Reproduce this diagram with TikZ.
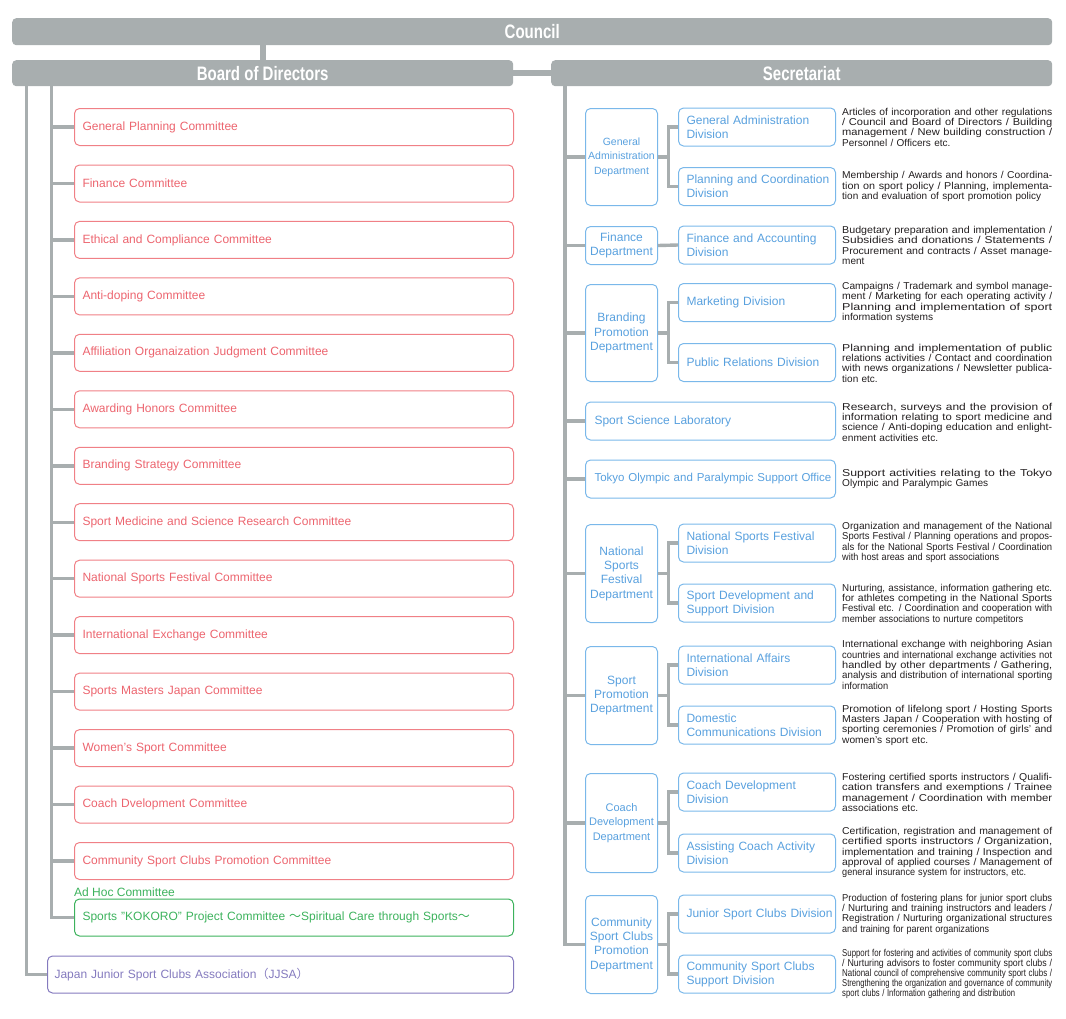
\documentclass[tikz,border=0pt]{standalone}
\usepackage{fontspec}
\usepackage{graphicx}
\setmainfont{Liberation Sans}
\newfontfamily\cjk{Noto Sans CJK JP}
\newfontfamily\hdr[FakeStretch=0.77]{Liberation Sans Bold}
\definecolor{barc}{RGB}{168,174,175}
\definecolor{redc}{RGB}{236,100,110}
\definecolor{redbd}{RGB}{240,128,134}
\definecolor{grnc}{RGB}{60,178,92}
\definecolor{purc}{RGB}{132,122,190}
\definecolor{bluec}{RGB}{88,160,222}
\definecolor{bluebd}{RGB}{122,184,234}
\definecolor{descc}{RGB}{35,31,32}
\newcommand{\fline}[1]{\resizebox{210pt}{\height}{#1}}
\newcommand{\lline}[2]{\resizebox{#1pt}{\height}{#2}}
\tikzset{
  bar/.style={fill=barc, rounded corners=4, minimum height=27, inner sep=0, anchor=north west, text=white, font=\hdr\fontsize{19.5}{20}\selectfont},
  conn/.style={draw=barc, line width=3.4},
  com/.style={draw=redbd, text=redc, line width=1, rounded corners=5, minimum height=37, text width=423, inner xsep=8, inner ysep=0, align=left, anchor=west, font=\fontsize{12}{14}\selectfont},
  adhoc/.style={com, draw=grnc, text=grnc},
  jj/.style={com, draw=purc, text=purc, text width=452, inner xsep=7},
  dept/.style={draw=bluebd, text=bluec, line width=1, rounded corners=5, text width=68, inner xsep=2, inner ysep=0, align=center, anchor=north west, font=\fontsize{12}{14.3}\selectfont},
  divb/.style={draw=bluebd, text=bluec, line width=1, rounded corners=5, text width=141, inner xsep=8, inner ysep=0, minimum height=38, align=left, anchor=west, font=\fontsize{12}{14}\selectfont},
  wide/.style={divb, text width=232, inner xsep=9, font=\fontsize{11.5}{14}\selectfont},
  desc/.style={anchor=west, inner sep=0, text width=210, align=left, text=descc, font=\fontsize{10}{10.3}\selectfont},
}
\begin{document}
\begin{tikzpicture}[x=1pt,y=-1pt]
\useasboundingbox (0,0) rectangle (1066,1018);
% headers
\node[bar, minimum width=1040] (council) at (12,18) {Council};
\node[bar, minimum width=501, minimum height=26] (board) at (12,60) {Board of Directors};
\node[bar, minimum width=501, minimum height=26] (secr) at (551,60) {Secretariat};
\draw[conn, line width=6] (board.north) -- (board.north |- council.south);
\draw[conn, line width=5.5] (board.east) -- (secr.west);

% committees
\node[com] (c1) at (74,127) {General Planning Committee};
\node[com] (c2) at (74,183.5) {Finance Committee};
\node[com] (c3) at (74,239.9) {Ethical and Compliance Committee};
\node[com] (c4) at (74,296.4) {Anti-doping Committee};
\node[com] (c5) at (74,352.8) {Affiliation Organaization Judgment Committee};
\node[com] (c6) at (74,409.3) {Awarding Honors Committee};
\node[com] (c7) at (74,465.8) {Branding Strategy Committee};
\node[com] (c8) at (74,522.2) {Sport Medicine and Science Research Committee};
\node[com] (c9) at (74,578.7) {National Sports Festival Committee};
\node[com] (c10) at (74,635.1) {International Exchange Committee};
\node[com] (c11) at (74,691.6) {Sports Masters Japan Committee};
\node[com] (c12) at (74,748.1) {Women's Sport Committee};
\node[com] (c13) at (74,804.5) {Coach Dvelopment Committee};
\node[com] (c14) at (74,861) {Community Sport Clubs Promotion Committee};
\node[anchor=west, inner sep=0, text=grnc, font=\fontsize{12}{14}\selectfont] (adlab) at (74,892.5) {Ad Hoc Committee};
\node[adhoc] (adhoc) at (74,917.5) {Sports "KOKORO" Project Committee {\cjk ～}Spiritual Care through Sports{\cjk ～}};
\node[jj] (jjsa) at (47,974.5) {Japan Junior Sport Clubs Association{\cjk （}JJSA{\cjk ）}};

\coordinate (la) at (26.5,86);
\coordinate (lb) at (51.5,86);
\draw[conn] (la) |- (jjsa.west);
\foreach \i in {1,...,14} \draw[conn] (lb) |- (c\i.west);
\draw[conn] (lb) |- (adhoc.west);

% departments
\node[dept, minimum height=97, font=\fontsize{10.5}{14.5}\selectfont] (dGA) at (585,108) {General\\Administration\\Department};
\node[dept, minimum height=38] (dFin) at (585,226) {Finance\\Department};
\node[dept, minimum height=97] (dBr) at (585,284) {Branding\\Promotion\\Department};
\node[wide, font=\fontsize{12}{14}\selectfont] (lab) at (585,421) {Sport Science Laboratory};
\node[wide] (tok) at (585,479) {\mbox{Tokyo Olympic and Paralympic Support Office}};
\node[dept, minimum height=98] (dNSF) at (585,524) {National\\Sports\\Festival\\Department};
\node[dept, minimum height=98] (dSP) at (585,646) {Sport\\Promotion\\Department};
\node[dept, minimum height=99, font=\fontsize{11}{14.5}\selectfont] (dCo) at (585,773) {Coach\\Development\\Department};
\node[dept, minimum height=98] (dCS) at (585,895) {Community\\Sport Clubs\\Promotion\\Department};

% divisions
\node[divb] (vGA) at (678,127) {General Administration\\Division};
\node[divb] (vPC) at (678,186.5) {\mbox{Planning and Coordination}\\Division};
\node[divb] (vFA) at (678,245) {Finance and Accounting\\Division};
\node[divb] (vMk) at (678,302.5) {Marketing Division};
\node[divb] (vPR) at (678,362.5) {Public Relations Division};
\node[divb] (vNF) at (678,543) {National Sports Festival\\Division};
\node[divb] (vSD) at (678,603) {Sport Development and\\Support Division};
\node[divb] (vIA) at (678,665) {International Affairs\\Division};
\node[divb] (vDC) at (678,725) {Domestic\\\mbox{Communications Division}};
\node[divb] (vCD) at (678,792) {Coach Development\\Division};
\node[divb] (vAC) at (678,853) {Assisting Coach Activity\\Division};
\node[divb] (vJS) at (678,914) {\mbox{Junior Sport Clubs Division}};
\node[divb] (vCS) at (678,974) {Community Sport Clubs\\Support Division};

% connectors right
\coordinate (ra) at (565,86);
\foreach \n in {dGA,dFin,dBr,lab,tok,dNSF,dSP,dCo,dCS} \draw[conn] (ra) |- (\n.west);
\draw[conn] (dFin.east) -- (vFA.west);
\draw[conn] (dGA.east) -- ++(10.5,0) coordinate (kGA);
\draw[conn] (kGA) |- (vGA.west); \draw[conn] (kGA) |- (vPC.west);
\draw[conn] (dBr.east) -- ++(10.5,0) coordinate (kBr);
\draw[conn] (kBr) |- (vMk.west); \draw[conn] (kBr) |- (vPR.west);
\draw[conn] (dNSF.east) -- ++(10.5,0) coordinate (kNF);
\draw[conn] (kNF) |- (vNF.west); \draw[conn] (kNF) |- (vSD.west);
\draw[conn] (dSP.east) -- ++(10.5,0) coordinate (kSP);
\draw[conn] (kSP) |- (vIA.west); \draw[conn] (kSP) |- (vDC.west);
\draw[conn] (dCo.east) -- ++(10.5,0) coordinate (kCo);
\draw[conn] (kCo) |- (vCD.west); \draw[conn] (kCo) |- (vAC.west);
\draw[conn] (dCS.east) -- ++(10.5,0) coordinate (kCS);
\draw[conn] (kCS) |- (vJS.west); \draw[conn] (kCS) |- (vCS.west);

% descriptions
\node[desc] (t1) at (842,127) {\fline{Articles of incorporation and other regulations}\\\fline{/ Council and Board of Directors / Building}\\\fline{management / New building construction /}\\Personnel / Officers etc.};
\node[desc] (t2) at (842,186.5) {\fline{Membership / Awards and honors / Coordina-}\\\fline{tion on sport policy / Planning, implementa-}\\\lline{199}{tion and evaluation of sport promotion policy}};
\node[desc] (t3) at (842,245.5) {\fline{Budgetary preparation and implementation /}\\\fline{Subsidies and donations / Statements /}\\\fline{Procurement and contracts / Asset manage-}\\ment};
\node[desc] (t4) at (842,302.5) {\fline{Campaigns / Trademark and symbol manage-}\\\fline{ment / Marketing for each operating activity /}\\\fline{Planning and implementation of sport}\\\lline{91}{information systems}};
\node[desc] (t5) at (842,363) {\fline{Planning and implementation of public}\\\fline{relations activities / Contact and coordination}\\\fline{with news organizations / Newsletter publica-}\\tion etc.};
\node[desc] (t6) at (842,422) {\fline{Research, surveys and the provision of}\\\fline{information relating to sport medicine and}\\\fline{science / Anti-doping education and enlight-}\\\lline{96}{enment activities etc.}};
\node[desc] (t7) at (842,479) {\fline{Support activities relating to the Tokyo}\\\lline{146}{Olympic and Paralympic Games}};
\node[desc] (t8) at (842,542.5) {\fline{Organization and management of the National}\\\fline{Sports Festival / Planning operations and propos-}\\\fline{als for the National Sports Festival / Coordination}\\\lline{157}{with host areas and sport associations}};
\node[desc] (t9) at (842,604) {\fline{Nurturing, assistance, information gathering etc.}\\\fline{for athletes competing in the National Sports}\\\fline{Festival etc. / Coordination and cooperation with}\\\lline{181}{member associations to nurture competitors}};
\node[desc] (t10) at (842,665) {\fline{International exchange with neighboring Asian}\\\fline{countries and international exchange activities not}\\\fline{handled by other departments / Gathering,}\\\fline{analysis and distribution of international sporting}\\\lline{46}{information}};
\node[desc] (t11) at (842,725) {\fline{Promotion of lifelong sport / Hosting Sports}\\\fline{Masters Japan / Cooperation with hosting of}\\\fline{sporting ceremonies / Promotion of girls' and}\\\lline{86}{women's sport etc.}};
\node[desc] (t12) at (842,792.5) {\fline{Fostering certified sports instructors / Qualifi-}\\\fline{cation transfers and exemptions / Trainee}\\\fline{management / Coordination with member}\\\lline{76}{associations etc.}};
\node[desc] (t13) at (842,852.5) {\fline{Certification, registration and management of}\\\fline{certified sports instructors / Organization,}\\\fline{implementation and training / Inspection and}\\\fline{approval of applied courses / Management of}\\\lline{184}{general insurance system for instructors, etc.}};
\node[desc] (t14) at (842,914) {\fline{Production of fostering plans for junior sport clubs}\\\fline{/ Nurturing and training instructors and leaders /}\\\fline{Registration / Nurturing organizational structures}\\\lline{147}{and training for parent organizations}};
\node[desc, font=\fontsize{10}{9.8}\selectfont] (t15) at (842,974) {\fline{Support for fostering and activities of community sport clubs}\\\fline{/ Nurturing advisors to foster community sport clubs /}\\\fline{National council of comprehensive community sport clubs /}\\\fline{Strengthening the organization and governance of community}\\\lline{173}{sport clubs / Information gathering and distribution}};
\end{tikzpicture}
\end{document}
